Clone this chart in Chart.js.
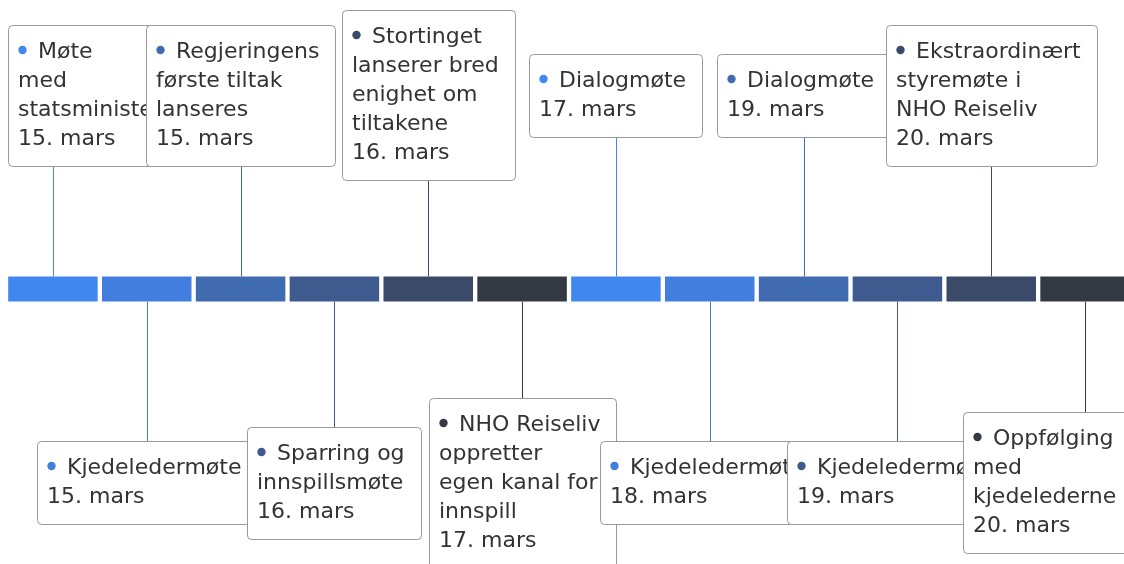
<!DOCTYPE html>
<html lang="no">
<head>
<meta charset="utf-8">
<title>Tidslinje</title>
<script src="https://cdn.jsdelivr.net/npm/chart.js@4.4.1/dist/chart.umd.min.js"></script>
<style>
  html, body { margin: 0; padding: 0; background: #fff; overflow: hidden; }
  #wrap { width: 1132px; height: 564px; }
</style>
</head>
<body>
<div id="wrap"><canvas id="timeline" width="1132" height="564"></canvas></div>
<script>
// Events in timeline order; titles are pre-wrapped the way the original shows them
const titles = [
  ['Møte', 'med', 'statsminister'],
  ['Kjedeledermøte'],
  ['Regjeringens', 'første tiltak', 'lanseres'],
  ['Sparring og', 'innspillsmøte'],
  ['Stortinget', 'lanserer bred', 'enighet om', 'tiltakene'],
  ['NHO Reiseliv', 'oppretter', 'egen kanal for', 'innspill'],
  ['Dialogmøte'],
  ['Kjedeledermøte'],
  ['Dialogmøte'],
  ['Kjedeledermøte'],
  ['Ekstraordinært', 'styremøte i', 'NHO Reiseliv'],
  ['Oppfølging', 'med', 'kjedelederne']
];
const dates = [
  '15. mars', '15. mars', '15. mars', '16. mars', '16. mars', '17. mars',
  '17. mars', '18. mars', '19. mars', '19. mars', '20. mars', '20. mars'
];

// Colour cycle for the segments (repeats every 6 points)
const palette = ['#4087f0', '#427edd', '#406bb1', '#3e5a8e', '#3a4a68', '#343a44'];

const BAR_HALF = 1;       // half thickness of the timeline band, in y units
const LABEL_DIST = 15.5;  // label centre distance from the band, in y units

const pointColors = titles.map((t, i) => palette[i % palette.length]);

// Draws connectors + label boxes (Highcharts-timeline look)
const timelineLabels = {
  id: 'timelineLabels',
  afterDatasetsDraw(chart, args, opts) {
    const { ctx, chartArea } = chart;
    const yScale = chart.scales.y;
    const meta = chart.getDatasetMeta(0);
    ctx.save();
    ctx.font = opts.font;

    const boxes = meta.data.map((bar, i) => {
      const up = i % 2 === 0;
      const lines = titles[i].concat([dates[i]]);
      let textW = 0;
      lines.forEach((l, k) => {
        const w = ctx.measureText(l).width + (k === 0 ? opts.bulletIndent : 0);
        textW = Math.max(textW, w);
      });
      const w = Math.round(textW + opts.padLeft + opts.padRight);
      const h = lines.length * opts.lineHeight + opts.padV * 2;
      const cy = yScale.getPixelForValue(up ? LABEL_DIST : -LABEL_DIST);
      let x0 = bar.x - w / 2;
      x0 = Math.max(chartArea.left + 2, Math.min(x0, chartArea.right - w));
      const y0 = cy - h / 2;
      return { up, lines, x0: Math.round(x0), y0: Math.round(y0), w, h, bx: bar.x };
    });

    // connectors
    boxes.forEach((b, i) => {
      const x = Math.round(b.bx) + 0.5;
      const yEdge = yScale.getPixelForValue(b.up ? BAR_HALF : -BAR_HALF);
      const yEnd = b.up ? b.y0 + b.h : b.y0;
      ctx.strokeStyle = pointColors[i];
      ctx.lineWidth = 1;
      ctx.beginPath();
      ctx.moveTo(x, yEdge);
      ctx.lineTo(x, yEnd);
      ctx.stroke();
    });

    // boxes, later points drawn over earlier ones
    boxes.forEach((b, i) => {
      ctx.beginPath();
      ctx.roundRect(b.x0 + 0.5, b.y0 + 0.5, b.w, b.h, 4);
      ctx.fillStyle = '#ffffff';
      ctx.fill();
      ctx.strokeStyle = opts.borderColor;
      ctx.lineWidth = 1;
      ctx.stroke();

      ctx.fillStyle = opts.color;
      ctx.textBaseline = 'alphabetic';
      b.lines.forEach((l, k) => {
        const base = b.y0 + opts.firstBaseline + k * opts.lineHeight;
        let tx = b.x0 + opts.padLeft;
        if (k === 0) {
          ctx.save();
          ctx.fillStyle = pointColors[i];
          ctx.beginPath();
          ctx.arc(tx + 4.5, base - 7.5, 4.2, 0, Math.PI * 2);
          ctx.fill();
          ctx.restore();
          tx += opts.bulletIndent;
        }
        ctx.fillText(l, tx, base);
      });
    });
    ctx.restore();
  }
};

new Chart(document.getElementById('timeline'), {
  type: 'bar',
  data: {
    labels: titles.map(t => t.join(' ')),
    datasets: [{
      data: titles.map(() => [-BAR_HALF, BAR_HALF]),
      backgroundColor: pointColors,
      borderWidth: 0,
      categoryPercentage: 1,
      barPercentage: 0.954
    }]
  },
  options: {
    responsive: false,
    animation: false,
    devicePixelRatio: 1,
    layout: { padding: { left: 6, top: 14, right: 0, bottom: 0 } },
    scales: {
      x: { display: false, offset: true },
      y: { display: false, min: -22, max: 22 }
    },
    plugins: {
      legend: { display: false },
      tooltip: { enabled: false },
      timelineLabels: {
        font: '22px "DejaVu Sans"',
        color: '#333333',
        borderColor: '#999999',
        lineHeight: 29,
        padV: 12.5,
        firstBaseline: 32.5,
        padLeft: 10,
        padRight: 16,
        bulletIndent: 20
      }
    }
  },
  plugins: [timelineLabels]
});
</script>
</body>
</html>
